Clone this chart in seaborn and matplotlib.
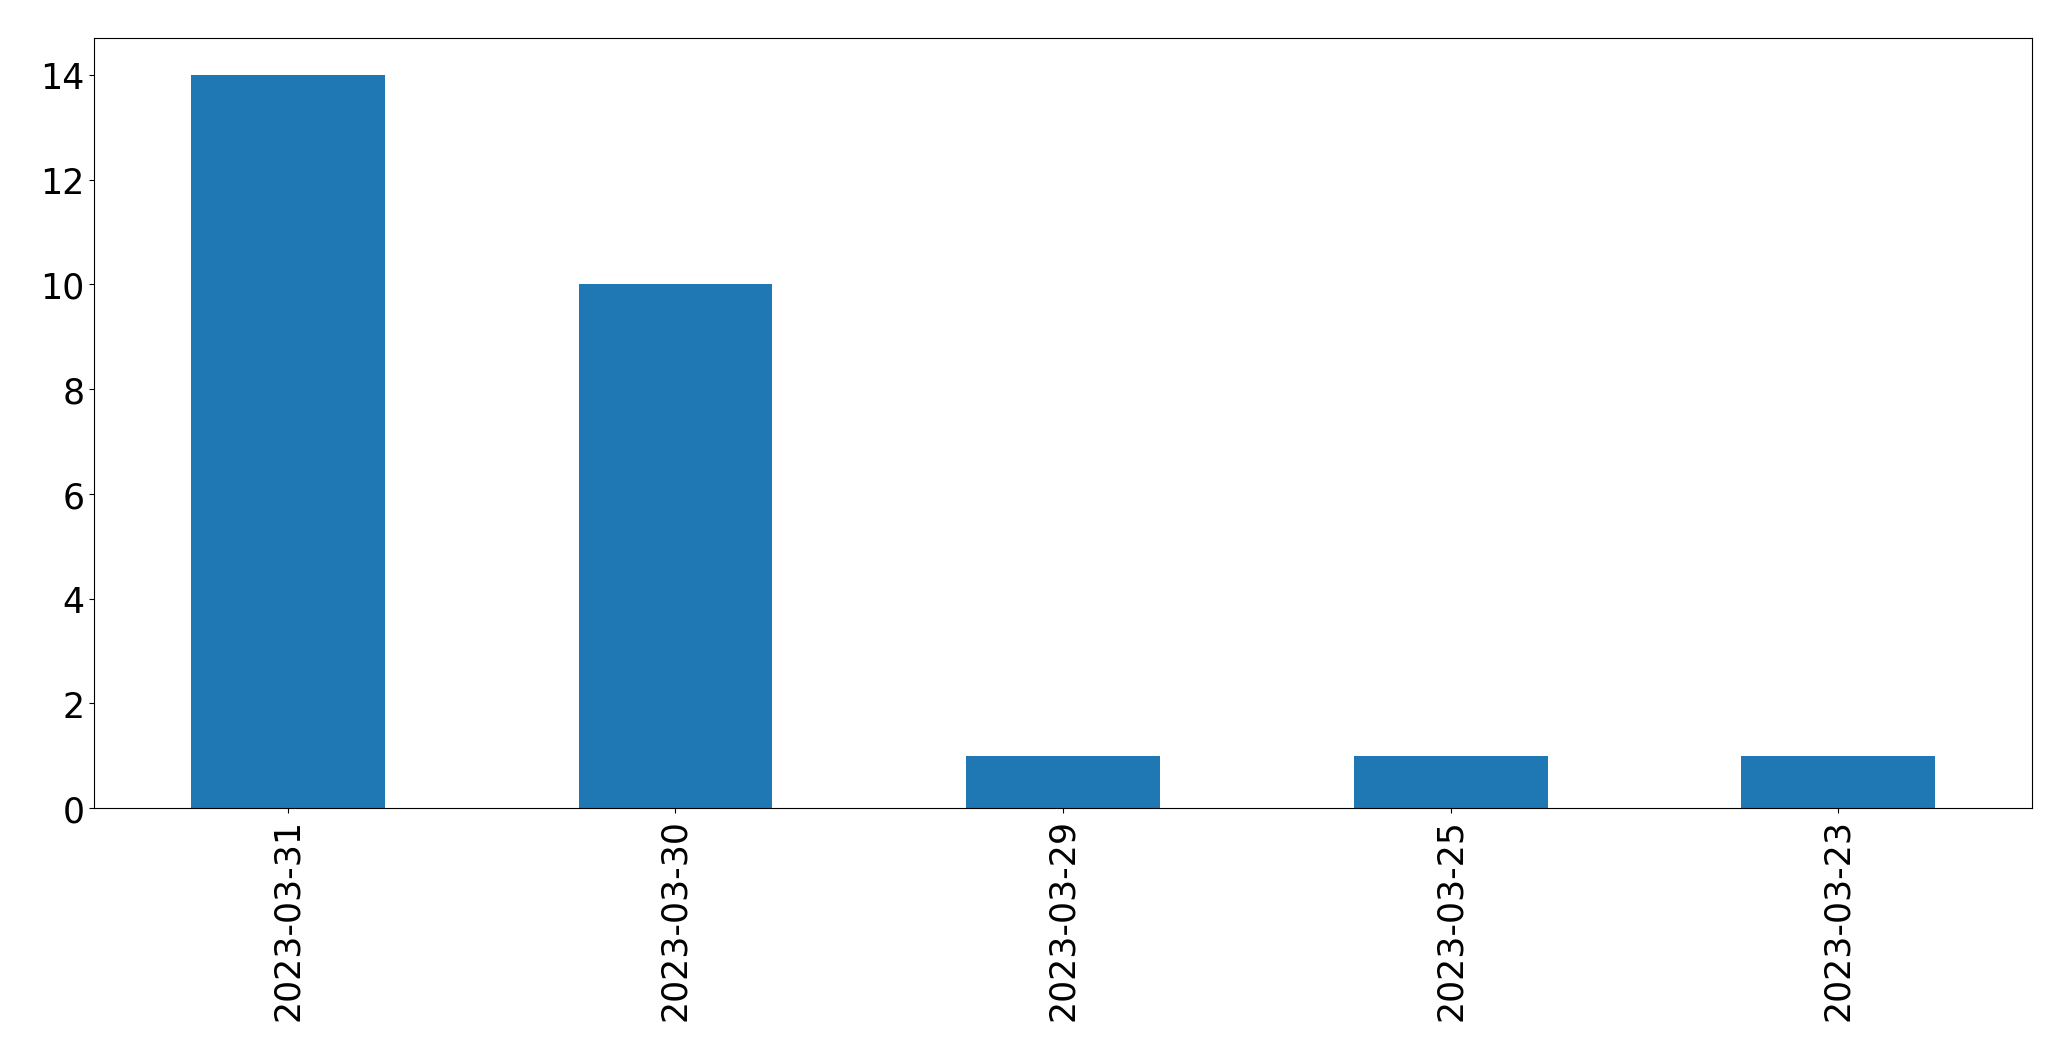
import pandas as pd
import matplotlib
matplotlib.use("Agg")
import matplotlib.pyplot as plt
import seaborn as sns

# counts per date, in the order shown
dates = ["2023-03-31", "2023-03-30", "2023-03-29", "2023-03-25", "2023-03-23"]
counts = [14, 10, 1, 1, 1]

df = pd.DataFrame({"date": dates, "count": counts})

fig = plt.figure(figsize=(20.71, 10.609), dpi=100)
ax = fig.add_axes([0.0454, 0.2375, 0.9358, 0.7255])

sns.barplot(data=df, x="date", y="count", order=dates, color="#1f77b4",
            saturation=1, width=0.5, ax=ax)

ax.set_xlim(-0.5, len(dates) - 0.5)
ax.set_ylim(0, max(counts) * 1.05)
ax.set_xlabel("")
ax.set_ylabel("")
ax.tick_params(axis="both", labelsize=25)
plt.setp(ax.get_xticklabels(), rotation=90)
for s in ax.spines.values():
    s.set_visible(True)
    s.set_color("black")

fig.savefig("out.png", dpi=100)
